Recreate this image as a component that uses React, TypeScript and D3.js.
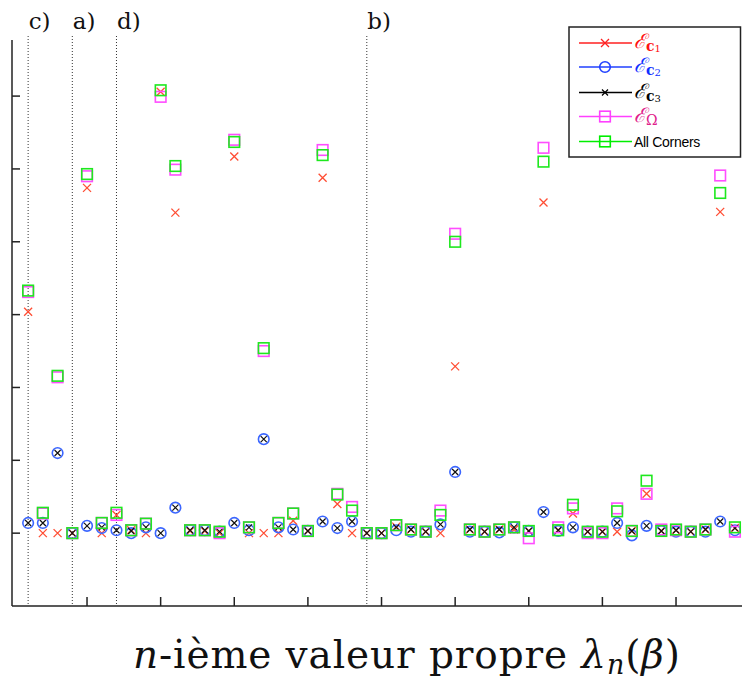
import React from "react";
import * as d3 from "d3";

const W = 742;
const H = 679;

// index n = 1..49
const indices = d3.range(1, 50);

const ec1 = [4.04, 1.0, 1.0, 1.0, 5.74, 1.0, 1.25, 1.04, 1.0, 7.06, 5.4, 1.03, 1.03, 1.0, 6.17, 1.0, 1.0, 1.0, 1.17, 1.03, 5.88, 1.4, 1.0, 1.0, 1.0, 1.09, 1.05, 1.02, 1.0, 3.29, 1.05, 1.02, 1.05, 1.05, 1.03, 5.54, 1.04, 1.27, 1.02, 1.02, 1.02, 1.03, 1.54, 1.03, 1.04, 1.02, 1.05, 5.41, 1.07];
const ec2 = [1.14, 1.14, 2.1, 1.0, 1.1, 1.07, 1.04, 1.0, 1.08, 1.0, 1.35, 1.04, 1.04, 1.02, 1.14, 1.04, 2.29, 1.08, 1.05, 1.03, 1.16, 1.07, 1.16, 1.0, 1.0, 1.04, 1.02, 1.02, 1.12, 1.84, 1.02, 1.02, 1.01, 1.08, 1.03, 1.29, 1.03, 1.08, 1.02, 1.02, 1.14, 0.97, 1.1, 1.03, 1.02, 1.02, 1.02, 1.16, 1.04];
const ec3 = [1.14, 1.14, 2.1, 1.0, 1.1, 1.08, 1.04, 1.03, 1.08, 1.0, 1.35, 1.04, 1.04, 1.02, 1.14, 1.08, 2.29, 1.08, 1.05, 1.03, 1.16, 1.07, 1.16, 1.0, 1.0, 1.08, 1.05, 1.02, 1.12, 1.84, 1.05, 1.02, 1.05, 1.08, 1.03, 1.29, 1.04, 1.08, 1.02, 1.02, 1.14, 1.03, 1.1, 1.03, 1.04, 1.02, 1.05, 1.16, 1.07];
const eOmega = [4.31, 1.27, 3.14, 1.0, 5.9, 1.14, 1.25, 1.04, 1.13, 6.99, 5.99, 1.04, 1.04, 1.0, 6.4, 1.08, 3.5, 1.14, 1.27, 1.03, 6.26, 1.54, 1.36, 1.0, 1.0, 1.11, 1.05, 1.02, 1.31, 5.11, 1.05, 1.02, 1.05, 1.08, 0.93, 6.29, 1.08, 1.34, 1.0, 1.0, 1.34, 1.03, 1.54, 1.05, 1.04, 1.02, 1.05, 5.91, 1.02];
const allCorners = [4.33, 1.28, 3.16, 1.0, 5.93, 1.14, 1.28, 1.04, 1.13, 7.08, 6.04, 1.04, 1.04, 1.02, 6.37, 1.08, 3.54, 1.14, 1.27, 1.03, 6.19, 1.53, 1.31, 1.0, 1.0, 1.11, 1.05, 1.02, 1.25, 5.0, 1.05, 1.02, 1.05, 1.08, 1.03, 6.1, 1.04, 1.39, 1.02, 1.02, 1.3, 1.03, 1.72, 1.03, 1.05, 1.02, 1.05, 5.67, 1.08];

const xTicks = [5, 10, 15, 20, 25, 30, 35, 40, 45];
const yTicks = [1, 2, 3, 4, 5, 6, 7];

const markerLines = [
  { n: 1, label: "c)" },
  { n: 4, label: "a)" },
  { n: 7, label: "d)" },
  { n: 24, label: "b)" },
];

const COL_RED = "#ff4d33";
const COL_BLUE = "#3b66ff";
const COL_BLACK = "#111";
const COL_MAG = "#ff4dff";
const COL_GREEN = "#1ee81e";

const x = d3.scaleLinear().domain([0, 50]).range([13.4, 13.4 + 14.725 * 50]);
const y = d3.scaleLinear().domain([0, 7.77]).range([606, 40]);

type MarkerKind = "x" | "o" | "xs" | "s";

function Marker({ kind, cx, cy, color }: { kind: MarkerKind; cx: number; cy: number; color: string }) {
  if (kind === "x") {
    const r = 4;
    return (
      <path d={`M${cx - r},${cy - r}L${cx + r},${cy + r}M${cx - r},${cy + r}L${cx + r},${cy - r}`} stroke={color} strokeWidth={1.3} fill="none" />
    );
  }
  if (kind === "xs") {
    const r = 3;
    return (
      <path d={`M${cx - r},${cy - r}L${cx + r},${cy + r}M${cx - r},${cy + r}L${cx + r},${cy - r}`} stroke={color} strokeWidth={1.2} fill="none" />
    );
  }
  if (kind === "o") {
    return <circle cx={cx} cy={cy} r={5.3} stroke={color} strokeWidth={1.6} fill="none" />;
  }
  const h = 5.3;
  return <rect x={cx - h} y={cy - h} width={2 * h} height={2 * h} stroke={color} strokeWidth={1.6} fill="none" />;
}

const series: { data: number[]; kind: MarkerKind; color: string }[] = [
  { data: ec1, kind: "x", color: COL_RED },
  { data: ec2, kind: "o", color: COL_BLUE },
  { data: ec3, kind: "xs", color: COL_BLACK },
  { data: eOmega, kind: "s", color: COL_MAG },
  { data: allCorners, kind: "s", color: COL_GREEN },
];

export default function App() {
  const axisColor = "#222";
  const legX = 569;
  const legY = 27;
  const legRows = [43, 67, 92.5, 116.5, 141.5];
  const legendItems: { kind: MarkerKind; color: string; lineColor: string }[] = [
    { kind: "x", color: "#ff2020", lineColor: "#ff2020" },
    { kind: "o", color: "#2040ff", lineColor: "#2040ff" },
    { kind: "xs", color: "#000", lineColor: "#000" },
    { kind: "s", color: "#ff40ff", lineColor: "#ff40ff" },
    { kind: "s", color: "#00ee00", lineColor: "#00ee00" },
  ];
  const subLabels = [
    { sub: "1", color: "#ff1010" },
    { sub: "2", color: "#1030ff" },
    { sub: "3", color: "#000" },
  ];
  return (
    <svg width={W} height={H} style={{ position: "absolute", left: 0, top: 0, background: "#fff" }} fontFamily="'DejaVu Serif', serif">
      <rect x={0} y={0} width={W} height={H} fill="#fff" />
      {/* dotted vertical lines and labels */}
      {markerLines.map((m) => (
        <g key={m.label}>
          <line x1={x(m.n)} x2={x(m.n)} y1={36} y2={606} stroke="#333" strokeWidth={1} strokeDasharray="1,2" />
          <text x={x(m.n) + 0.5} y={29} fontSize={23} fill="#111" fontWeight={300}>{m.label}</text>
        </g>
      ))}
      {/* axes */}
      <line x1={12} x2={12} y1={40} y2={606} stroke={axisColor} strokeWidth={1.5} />
      <line x1={12} x2={W} y1={606} y2={606} stroke={axisColor} strokeWidth={1.5} />
      {yTicks.map((t) => (
        <line key={"y" + t} x1={12} x2={20} y1={y(t)} y2={y(t)} stroke={axisColor} strokeWidth={1.5} />
      ))}
      {xTicks.map((t) => (
        <line key={"x" + t} x1={x(t)} x2={x(t)} y1={606} y2={597} stroke={axisColor} strokeWidth={1.5} />
      ))}
      {/* data markers */}
      {series.map((s, si) => (
        <g key={si}>
          {s.data.map((v, i) => (
            <Marker key={i} kind={s.kind} cx={x(indices[i])} cy={y(v)} color={s.color} />
          ))}
        </g>
      ))}
      {/* legend */}
      <rect x={legX} y={legY} width={W - legX - 1.5} height={130} fill="#fff" stroke="#222" strokeWidth={1.5} />
      {legendItems.map((it, i) => (
        <g key={i}>
          <line x1={579} x2={632} y1={legRows[i]} y2={legRows[i]} stroke={it.lineColor} strokeWidth={1.3} />
          <Marker kind={it.kind} cx={605} cy={legRows[i]} color={it.color} />
        </g>
      ))}
      {subLabels.map((s, i) => (
        <text key={s.sub} x={634} y={legRows[i] + 5} fill={s.color} fontSize={20} fontStyle="italic">
          ℰ
          <tspan fontSize={14} fontWeight="bold" dy={3} fontStyle="normal">c</tspan>
          <tspan fontSize={10} dy={1} fontStyle="normal">{s.sub}</tspan>
        </text>
      ))}
      <text x={634} y={legRows[3] + 5} fill="#e0208a" fontSize={20} fontStyle="italic">
        ℰ<tspan fontSize={14} dy={3} fontStyle="normal">Ω</tspan>
      </text>
      <text x={634} y={legRows[4] + 5} fill="#000" fontSize={14} fontFamily="'Liberation Sans', Arial, sans-serif" letterSpacing={-0.3}>
        All Corners
      </text>
      {/* x-axis label */}
      <text x={133} y={668} fontSize={39} fill="#111" fontWeight={300} textLength={547} lengthAdjust="spacing">
        <tspan fontStyle="italic">n</tspan>-ième valeur propre <tspan fontStyle="italic">λ</tspan>
        <tspan fontStyle="italic" fontSize={27} dy={6}>n</tspan>
        <tspan dy={-6}>(</tspan>
        <tspan fontStyle="italic">β</tspan>)
      </text>
    </svg>
  );
}
